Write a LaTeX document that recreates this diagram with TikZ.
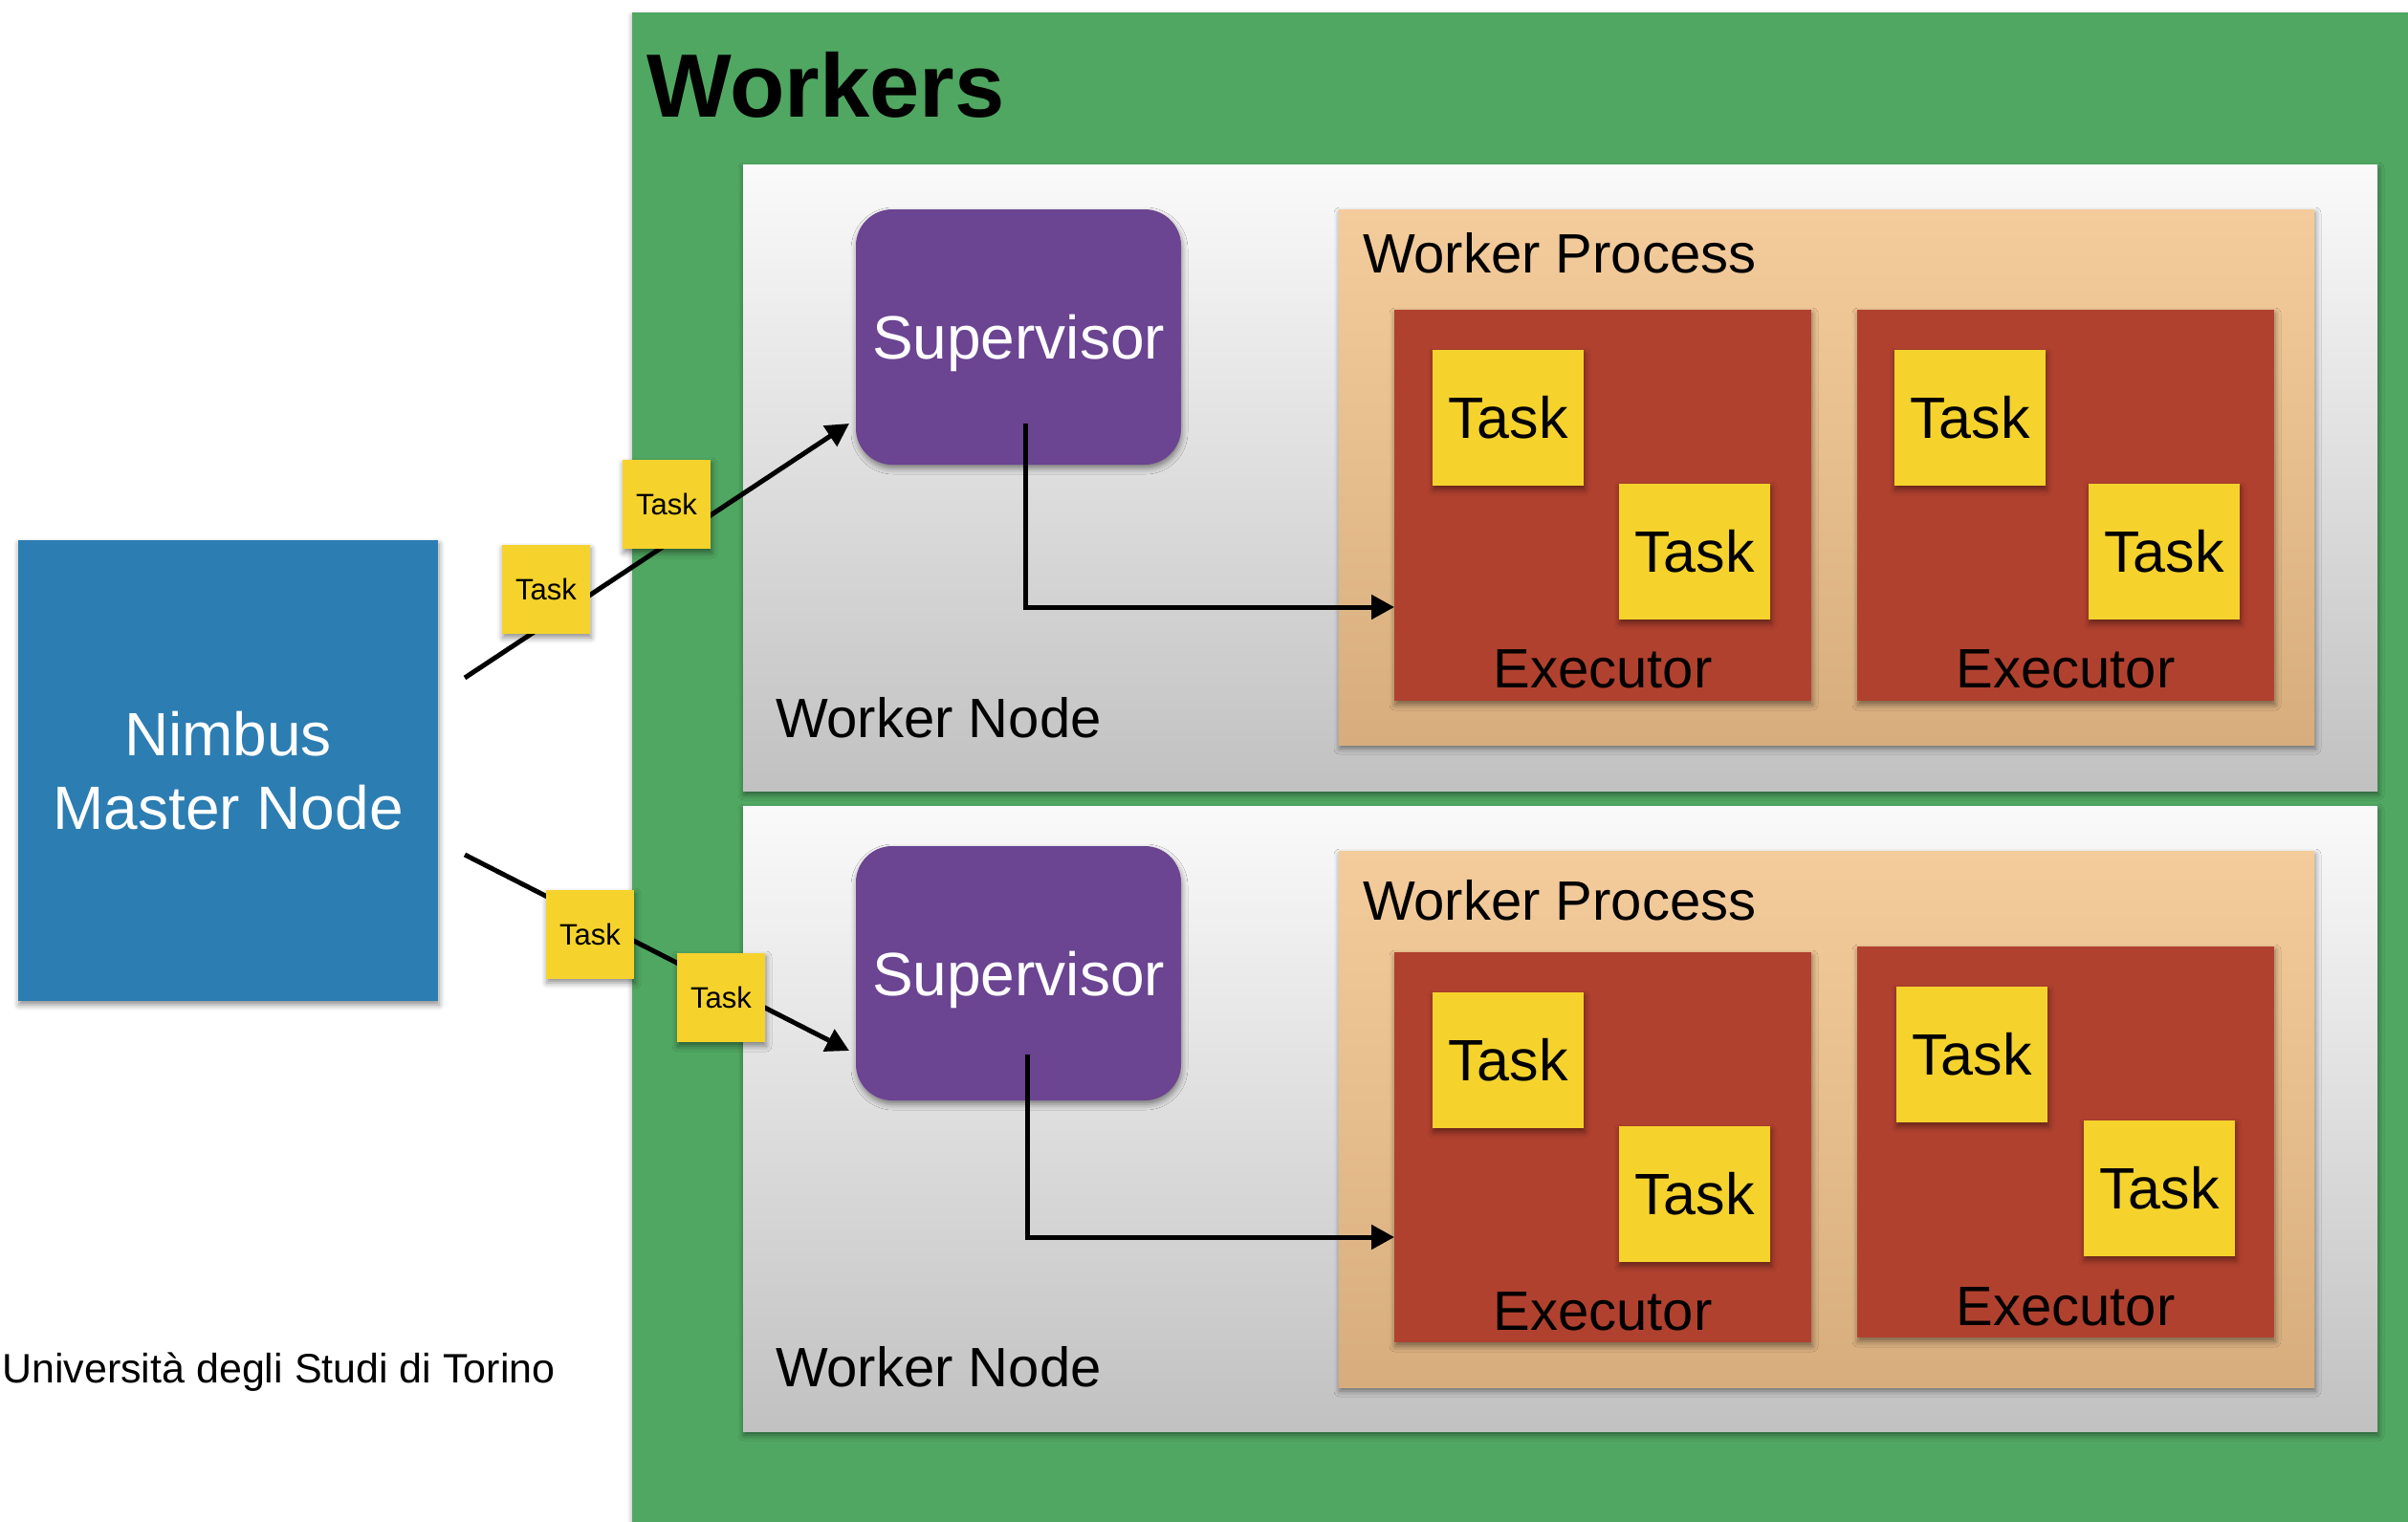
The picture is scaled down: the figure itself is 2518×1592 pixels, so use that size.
\documentclass[tikz,border=0pt]{standalone}
\usepackage{fontspec}
\setmainfont{Liberation Sans}
\usetikzlibrary{arrows.meta,shadows.blur}

\definecolor{greenbg}{RGB}{80,167,98}
\definecolor{panelTop}{RGB}{250,250,250}
\definecolor{panelBot}{RGB}{193,193,193}
\definecolor{procTop}{RGB}{244,204,156}
\definecolor{procBot}{RGB}{215,173,125}
\definecolor{execRed}{RGB}{177,65,47}
\definecolor{taskYellow}{RGB}{245,211,44}
\definecolor{superPurple}{RGB}{107,68,146}
\definecolor{nimbusBlue}{RGB}{44,125,178}

\tikzset{
  box/.style={rectangle, inner sep=0pt, outer sep=0pt, anchor=north west},
  softshadow/.style={blur shadow={shadow xshift=1pt, shadow yshift=-4pt,
      shadow blur radius=6pt, shadow opacity=45}},
  cluster/.style={box, fill=greenbg, softshadow},
  workernode/.style={box, top color=panelTop, bottom color=panelBot,
      minimum width=1709pt, softshadow},
  workerproc/.style={box, top color=procTop, bottom color=procBot,
      minimum width=1020pt, softshadow},
  executor/.style={box, fill=execRed, minimum width=436pt, softshadow},
  bigtask/.style={box, fill=taskYellow, minimum width=158pt, minimum height=142pt,
      font=\fontsize{61}{71}\selectfont, softshadow},
  smalltask/.style={box, fill=taskYellow, minimum width=92pt, minimum height=93pt,
      font=\fontsize{31}{36}\selectfont, softshadow},
  supervisor/.style={box, fill=superPurple, rounded corners=38pt,
      minimum width=340pt, text=white, text depth=0pt,
      font=\fontsize{64}{76}\selectfont, softshadow},
  master/.style={box, fill=nimbusBlue, text=white, align=center,
      font=\fontsize{64}{77}\selectfont, softshadow},
  lbl/.style={inner sep=0pt, outer sep=0pt, font=\fontsize{58}{69}\selectfont},
  flow/.style={line width=5pt, -{Triangle[length=24pt,width=25pt]}},
}

\begin{document}
\begin{tikzpicture}[x=1pt, y=-1pt]
\useasboundingbox (0,0) rectangle (2518,1592);

% cluster of worker machines
\node[cluster, minimum width=1857pt, minimum height=1579pt] (workers) at (661,13) {};
\node[anchor=base west, inner sep=0pt, font=\fontsize{94}{110}\selectfont\bfseries]
  (workerstitle) at (676,123) {Workers};

% master node
\node[master, minimum width=439pt, minimum height=482pt] (nimbus) at (19,565)
  {Nimbus\\Master Node};

% ---------- first worker node ----------
\node[workernode, minimum height=655pt] (wn1) at (777,172) {};
\node[lbl, anchor=base west] (wn1lbl) at (811,771) {Worker Node};
\node[workerproc, minimum height=560pt] (wp1) at (1400,219) {};
\node[lbl, anchor=base west] (wp1lbl) at (1425,285) {Worker Process};
\node[executor, minimum height=409pt] (ex11) at (1458,324) {};
\node[executor, minimum height=409pt] (ex12) at (1942,324) {};
\node[lbl, anchor=base] (ex11lbl) at (1676,719) {Executor};
\node[lbl, anchor=base] (ex12lbl) at (2160,719) {Executor};
\node[bigtask] (t11a) at (1498,366) {Task};
\node[bigtask] (t11b) at (1693,506) {Task};
\node[bigtask] (t12a) at (1981,366) {Task};
\node[bigtask] (t12b) at (2184,506) {Task};
\node[supervisor, minimum height=267pt] (sup1) at (895,219) {Supervisor};

% ---------- second worker node ----------
\node[workernode, minimum height=654pt] (wn2) at (777,843) {};
\node[lbl, anchor=base west] (wn2lbl) at (811,1450) {Worker Node};
\node[workerproc, minimum height=561pt] (wp2) at (1400,890) {};
\node[lbl, anchor=base west] (wp2lbl) at (1425,962) {Worker Process};
\node[executor, minimum height=408pt] (ex21) at (1458,996) {};
\node[executor, minimum height=409pt] (ex22) at (1942,990) {};
\node[lbl, anchor=base] (ex21lbl) at (1676,1391) {Executor};
\node[lbl, anchor=base] (ex22lbl) at (2160,1386) {Executor};
\node[bigtask] (t21a) at (1498,1038) {Task};
\node[bigtask] (t21b) at (1693,1178) {Task};
\node[bigtask] (t22a) at (1983,1032) {Task};
\node[bigtask] (t22b) at (2179,1172) {Task};
\node[supervisor, minimum height=266pt] (sup2) at (895,885) {Supervisor};

% supervisors launch executors
\coordinate (sup1out) at (1072,443);
\coordinate (sup1lvl) at (0,635);
\coordinate (sup2out) at (1074,1103);
\coordinate (sup2lvl) at (0,1294);
\draw[flow] (sup1out) |- (ex11.west |- sup1lvl);
\draw[flow] (sup2out) |- (ex21.west |- sup2lvl);

% tasks handed from the master to the supervisors
\coordinate (send1) at (486,709);
\coordinate (sup1in) at (888,443);
\coordinate (send2) at (486,894);
\coordinate (sup2in) at (888,1099);
\draw[flow] (send1) -- (sup1in);
\draw[flow] (send2) -- (sup2in);

\node[smalltask] (m1) at (525,570) {Task};
\node[smalltask] (m2) at (651,481) {Task};
\node[smalltask] (m3) at (571,931) {Task};
\node[smalltask] (m4) at (708,997) {Task};

% footer
\node[anchor=base west, inner sep=0pt, font=\fontsize{43}{51}\selectfont]
  (footer) at (2,1446) {Università degli Studi di Torino};
\end{tikzpicture}
\end{document}
